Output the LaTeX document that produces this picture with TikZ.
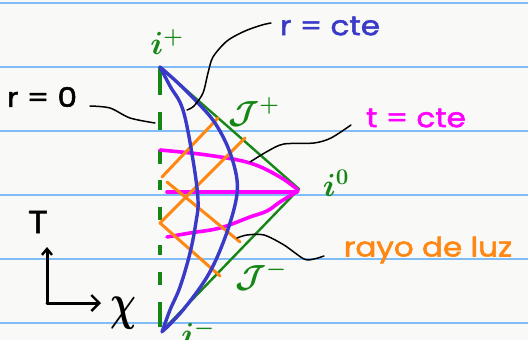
\RequirePackage{fix-cm}
\documentclass[tikz,border=0pt]{standalone}
\usepackage{fontspec}
\usepackage{graphicx}
\newfontfamily\hand[FakeStretch=1.15,FakeBold=2]{Poppins}
\usetikzlibrary{arrows.meta}
\definecolor{paper}{RGB}{249,249,247}
\definecolor{ruleblue}{RGB}{128,188,245}
\definecolor{dgreen}{RGB}{22,134,22}
\definecolor{rblue}{RGB}{58,58,200}
\definecolor{mag}{RGB}{255,0,255}
\definecolor{orng}{RGB}{255,136,20}
\begin{document}
\begin{tikzpicture}[x=1pt,y=-1pt, line cap=round, line join=round,
  ruleline/.style={ruleblue, line width=2pt},
  cone/.style={dgreen, line width=2.4pt},
  rcurve/.style={rblue, line width=3.4pt},
  tcurve/.style={mag, line width=3.6pt},
  ray/.style={orng, line width=3pt},
  pointer/.style={black, line width=1.5pt},
  axis/.style={black, line width=3pt},
  lbl/.style={inner sep=0pt, font=\hand\fontsize{27}{27}\selectfont},
  mlbl/.style={inner sep=0pt, dgreen, font=\boldmath\fontsize{32}{32}\selectfont},
]
\useasboundingbox (0,0) rectangle (528,340);
\clip (0,0) rectangle (528,340);
\fill[paper] (0,0) rectangle (528,340);
% notebook rules
\foreach \y in {3,67,131,195,259,323}
  \draw[ruleline] (0,\y) -- (528,\y);

% key points
\coordinate (iplus) at (160,67);
\coordinate (izero) at (299,189);
\coordinate (iminus) at (162,331);
\coordinate (rzbot) at (160,327);

% r = 0 dashed axis
\draw[dgreen, line width=3.2pt, line cap=butt,
  dash pattern=on 28pt off 17pt on 18pt off 20pt on 14pt off 16pt on 10pt off 17pt on 13pt off 25pt on 10pt off 17pt on 13pt off 17pt on 27pt off 40pt]
  (iplus) -- (rzbot);

% conformal boundary
\draw[cone] (iplus) -- (izero) -- (iminus);

% t = cte curves
\draw[tcurve] plot[smooth, tension=0.6] coordinates {(160,150) (207,155) (250,163) (280,177) (298,190)};
\draw[tcurve] (167,192) -- (297,192);
\draw[tcurve] plot[smooth, tension=0.6] coordinates {(167,237) (190,233) (220,228) (250,217) (267,211) (280,202) (298,191)};

% light rays
\draw[ray] (162,177) -- (218,118);
\draw[ray] (160,223) -- (245,138);
\draw[ray] (167,182) -- (240,242);
\draw[ray] (160,223) -- (220,276);

% r = cte curves
\draw[rcurve] plot[smooth, tension=0.6] coordinates {(160,67) (170,86) (183,110) (193,160) (198,200) (196,222) (190,253) (180,287) (170,310) (162,332)};
\draw[rcurve] plot[smooth, tension=0.6] coordinates {(160,67) (178,83) (198,103) (215,123) (229,150) (237,180) (235,205) (223,243) (207,277) (183,310) (163,331)};

% labels
\node[mlbl] (lip) at (167,42) {$i^{+}$};
\node[mlbl] (liz) at (336,183) {$i^{0}$};
\node[mlbl] (lim) at (198,333) {$i^{-}$};
\node[mlbl] (lsp) at (254,112) {$\mathcal{J}^{+}$};
\node[mlbl] (lsm) at (261,276) {$\mathcal{J}^{-}$};

\node[lbl] (lr0) at (42,97) {r = 0};
\node[lbl, text=rblue] (lrc) at (330,26) {r = cte};
\node[lbl, text=mag] (ltc) at (416,118) {t = cte};
\node[lbl, text=orng] (lray) at (428,250) {rayo de luz};

% pointers
\coordinate (p0a) at (90,106);
\coordinate (p0b) at (155,123);
\draw[pointer] plot[smooth] coordinates {(p0a) (110,108) (130,118) (p0b)};
\coordinate (p1a) at (271,23);
\coordinate (p1b) at (187,110);
\draw[pointer] plot[smooth] coordinates {(p1a) (262,25) (245,31) (227,41) (213,57) (208,73) (203,93) (194,106) (p1b)};
\coordinate (p2a) at (351,125);
\coordinate (p2b) at (250,162);
\draw[pointer] plot[smooth] coordinates {(p2a) (331,138) (314,143) (284,144) (268,151) (p2b)};
\coordinate (p3a) at (324,256);
\coordinate (p3b) at (237,238);
\draw[pointer] plot[smooth] coordinates {(p3a) (314,259) (304,259) (284,245) (264,235) (247,235) (p3b)};

% axes
\coordinate (orig) at (47,303);
\coordinate (tup) at (47,247);
\coordinate (xright) at (101,303);
\draw[axis, -{Straight Barb[length=6pt, width=10pt, line width=2.4pt]}] (orig) -- (tup);
\draw[axis, -{Straight Barb[length=8pt, width=16pt, line width=2.4pt]}] (orig) -- (xright);
\node[lbl, font=\hand\fontsize{32}{32}\selectfont] (lT) at (38,222) {T};
\node[inner sep=0pt, font=\boldmath\fontsize{36}{36}\selectfont] (lchi) at (123,313) {\scalebox{1}[1.4]{$\chi$}};
\end{tikzpicture}
\end{document}
